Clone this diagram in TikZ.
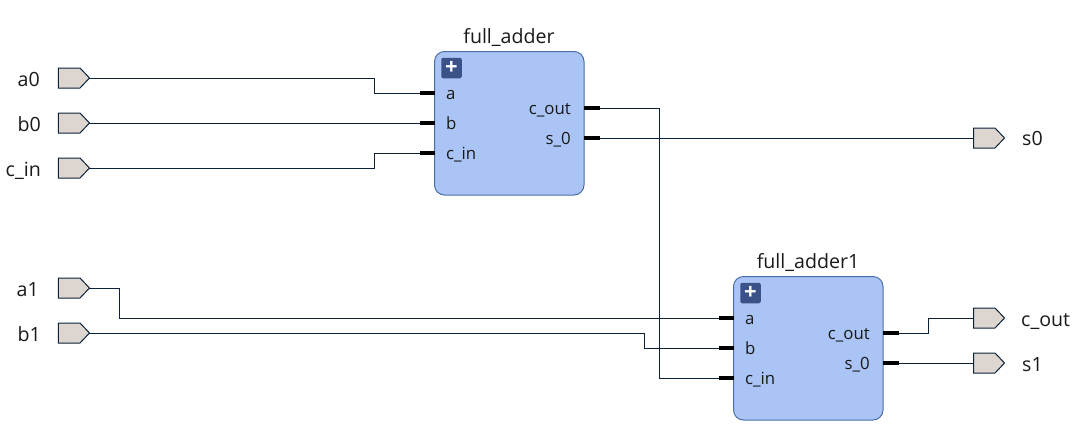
\documentclass[tikz,border=0pt]{standalone}
\usepackage{fontspec}
\setmainfont{Open Sans}
\usetikzlibrary{shapes.symbols}
\definecolor{wirecol}{HTML}{0C2238}
\definecolor{portfill}{HTML}{DDD5D0}
\definecolor{blockfill}{HTML}{A9C4F5}
\definecolor{blockline}{HTML}{4A6FA8}
\definecolor{plusfill}{HTML}{3A5288}
\tikzset{
  x=1pt,y=-1pt,
  port/.style={signal,signal to=east,signal from=nowhere,signal pointer angle=93,
    draw=wirecol,fill=portfill,line width=1pt,minimum width=31pt,minimum height=20pt,inner sep=0pt,outer sep=0pt},
  block/.style={draw=blockline,fill=blockfill,line width=1pt,rounded corners=10pt,
    minimum width=149.5pt,minimum height=143.5pt,inner sep=0pt,outer sep=0pt},
  wire/.style={draw=wirecol,line width=1pt},
  pin/.style={draw=black,line width=3.4pt},
  plus/.style={fill=plusfill,rounded corners=2pt,minimum size=20.5pt,inner sep=0pt,text=white,font=\bfseries\fontsize{22}{22}\selectfont},
  lbl/.style={font=\fontsize{19.6}{22}\selectfont,inner sep=0pt,text=black!90},
  pinlbl/.style={font=\fontsize{16.8}{20}\selectfont,inner sep=0pt,text=black!90},
}
\begin{document}
\begin{tikzpicture}
\useasboundingbox (0,0) rectangle (1089,424);
% blocks
\node[block] (fa) at (509.25,123.25) {};
\node[block] (fb) at (808.25,348.25) {};
\node[lbl,anchor=base] (fat) at (509,43) {full\_adder};
\node[lbl,anchor=base] (fbt) at (808,268) {full\_adder1};
\node[plus] (pa) at (451.5,68) {+};
\node[plus] (pb) at (750.5,293) {+};
% ports
\node[port] (a0) at (69.25,78) {};
\node[port] (b0) at (69.25,123) {};
\node[port] (cin) at (69.25,168) {};
\node[port] (a1) at (69.25,288) {};
\node[port] (b1) at (69.25,333) {};
\node[port] (s0) at (984.25,138) {};
\node[port] (cout) at (984.25,318) {};
\node[port] (s1) at (984.25,363) {};
\node[lbl,anchor=base east] (a0t) at (40,86) {a0};
\node[lbl,anchor=base east] (b0t) at (41,131) {b0};
\node[lbl,anchor=base east] (cint) at (41,176) {c\_in};
\node[lbl,anchor=base east] (a1t) at (39,296) {a1};
\node[lbl,anchor=base east] (b1t) at (41,341) {b1};
\node[lbl,anchor=base west] (s0t) at (1022,145) {s0};
\node[lbl,anchor=base west] (coutt) at (1021,326) {c\_out};
\node[lbl,anchor=base west] (s1t) at (1022,371) {s1};
% pin stubs
\coordinate (faa) at (419.5,93);
\coordinate (fab) at (419.5,123);
\coordinate (fac) at (419.5,153);
\coordinate (fao) at (600,108);
\coordinate (fas) at (600,138);
\coordinate (fba) at (718.5,318);
\coordinate (fbb) at (718.5,348);
\coordinate (fbc) at (718.5,378);
\coordinate (fbo) at (899,333);
\coordinate (fbs) at (899,363);
% wires
\draw[wire] (a0.east) -- (374.5,78) -- (374.5,93) -- (faa);
\draw[wire] (b0.east) -- (fab);
\draw[wire] (cin.east) -- (374.5,168) -- (374.5,153) -- (fac);
\draw[wire] (fao) -- (659.5,108) -- (659.5,378) -- (fbc);
\draw[wire] (fas) -- (s0.west);
\draw[wire] (a1.east) -- (119.5,288) -- (119.5,318) -- (fba);
\draw[wire] (b1.east) -- (644.5,333) -- (644.5,348) -- (fbb);
\draw[wire] (fbo) -- (928.5,333) -- (928.5,318) -- (cout.west);
\draw[wire] (fbs) -- (s1.west);
% pins
\draw[pin] (faa) -- (faa -| fa.west);
\draw[pin] (fab) -- (fab -| fa.west);
\draw[pin] (fac) -- (fac -| fa.west);
\draw[pin] (fao) -- (fao -| fa.east);
\draw[pin] (fas) -- (fas -| fa.east);
\draw[pin] (fba) -- (fba -| fb.west);
\draw[pin] (fbb) -- (fbb -| fb.west);
\draw[pin] (fbc) -- (fbc -| fb.west);
\draw[pin] (fbo) -- (fbo -| fb.east);
\draw[pin] (fbs) -- (fbs -| fb.east);
% pin labels
\node[pinlbl,anchor=base west] at (446,99) {a};
\node[pinlbl,anchor=base west] at (446,129) {b};
\node[pinlbl,anchor=base west] at (446,159) {c\_in};
\node[pinlbl,anchor=base east] at (571,114) {c\_out};
\node[pinlbl,anchor=base east] at (571,144) {s\_0};
\node[pinlbl,anchor=base west] at (745,324) {a};
\node[pinlbl,anchor=base west] at (745,354) {b};
\node[pinlbl,anchor=base west] at (745,384) {c\_in};
\node[pinlbl,anchor=base east] at (870,339) {c\_out};
\node[pinlbl,anchor=base east] at (870,369) {s\_0};
\end{tikzpicture}
\end{document}
